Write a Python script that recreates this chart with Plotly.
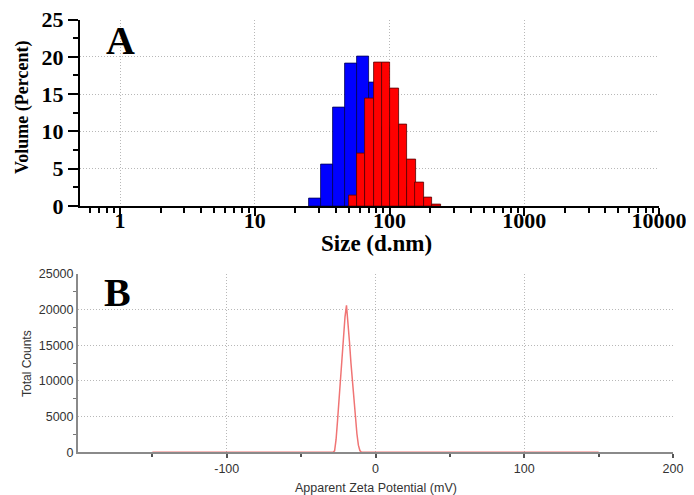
import numpy as np
import plotly.graph_objects as go

# ---------------- data ----------------
# Panel A: size distribution by volume (bin centres in nm, log spaced)
blue_size = [28.1, 34.5, 42.2, 51.7, 63.4, 77.6, 95.1, 116.6, 142.8, 175.0]
blue_vol = [1.0, 5.6, 13.2, 19.1, 20.1, 16.6, 10.5, 5.5, 2.5, 0.8]
blue_step = 0.0882  # bin width in decades

red_size = [53.5, 61.7, 71.1, 82.0, 94.6, 109.1, 125.9, 145.2, 167.5, 193.2, 222.8]
red_vol = [1.4, 7.0, 14.4, 19.2, 19.2, 15.8, 10.9, 6.3, 3.1, 1.1, 0.2]
red_step = 0.0625

size_ticks = [1, 10, 100, 1000, 10000]
size_ticktext = ["1", "10", "100", "1000", "10000"]

# Panel B: zeta potential distribution
zeta_mv = [-150, -28.5, -27.5, -26.5, -25.5, -24.5, -23.5, -22.5, -21.5, -20.5, -19.5,
           -18.5, -17.5, -16.5, -15.5, -14.5, -13.5, -12.5, -11.5, -10.5, -9.5, 150]
zeta_counts = [0, 0, 200, 1800, 4500, 7500, 10500, 13500, 16300, 19000, 20600,
               18500, 15500, 12500, 9800, 7200, 4800, 2600, 1000, 250, 0, 0]

zeta_ticks = [-100, 0, 100, 200]
zeta_ticktext = ["-100", "0", "100", "200"]

# ---------------- helpers ----------------
def bar_geom(centers, step):
    c = np.array(centers, dtype=float)
    lo = c * 10 ** (-step / 2)
    hi = c * 10 ** (step / 2)
    return (lo + hi) / 2, hi - lo

W, H = 694, 495
OFF = 8  # page body margin
def px_x(p):
    return (p - OFF) / W
def px_y(p):
    return 1 - (p - OFF) / H

fig = go.Figure()

bx, bw = bar_geom(blue_size, blue_step)
rx, rw = bar_geom(red_size, red_step)

fig.add_trace(go.Bar(x=bx, y=blue_vol, width=bw, marker=dict(color="#0000ff",
                     line=dict(color="#000050", width=0.8)),
                     xaxis="x", yaxis="y", showlegend=False))
fig.add_trace(go.Bar(x=rx, y=red_vol, width=rw, marker=dict(color="#ff0000",
                     line=dict(color="#500000", width=0.8)),
                     xaxis="x", yaxis="y", showlegend=False))

fig.add_trace(go.Scatter(x=zeta_mv, y=zeta_counts, mode="lines",
                         line=dict(color="#f07474", width=1.5),
                         xaxis="x2", yaxis="y2", showlegend=False))

minor_log = [m * d for d in [0.1, 1, 10, 100, 1000] for m in range(2, 10) if 0.5 < m * d < 10000]

serif = "Liberation Serif"
sans = "Liberation Sans"
grid = "#b8b8b8"
gdash = "1px,2px"

def ann(text, x, y, font, angle=0):
    return dict(text=text, x=px_x(x), y=px_y(y), xref="paper", yref="paper",
                xanchor="center", yanchor="middle", textangle=angle,
                showarrow=False, font=font)

fig.update_layout(
    width=W, height=H,
    margin=dict(l=0, r=0, t=0, b=0, autoexpand=False),
    paper_bgcolor="white", plot_bgcolor="white",
    barmode="overlay", bargap=0,
    xaxis=dict(
        type="log", range=[-0.297, 4.0], automargin=False,
        domain=[px_x(80), px_x(659)], anchor="y",
        tickmode="array", tickvals=size_ticks, ticktext=size_ticktext,
        ticks="outside", ticklen=8, tickwidth=1.5, tickcolor="black",
        ticklabelstandoff=-14, ticklabeloverflow="allow",
        minor=dict(tickmode="array", tickvals=minor_log, ticks="outside",
                   ticklen=5, tickwidth=1.5, tickcolor="black", showgrid=False),
        showline=True, linecolor="black", linewidth=2,
        showgrid=True, gridcolor=grid, griddash=gdash, gridwidth=1,
        zeroline=False,
        tickfont=dict(family=serif, size=22, color="black", weight="bold"),
    ),
    yaxis=dict(
        range=[0, 25], domain=[px_y(206), px_y(19.5)], anchor="x", automargin=False,
        tickmode="linear", tick0=0, dtick=5, ticklabeloverflow="allow",
        ticks="outside", ticklen=10, tickwidth=1.5, tickcolor="black",
        minor=dict(dtick=2.5, ticks="outside", ticklen=5, tickwidth=1.5,
                   tickcolor="black", showgrid=False),
        showline=True, linecolor="black", linewidth=2,
        showgrid=True, gridcolor=grid, griddash=gdash, gridwidth=1,
        zeroline=False,
        tickfont=dict(family=serif, size=22, color="black", weight="bold"),
    ),
    xaxis2=dict(
        range=[-200, 200], domain=[px_x(78), px_x(673)], anchor="y2", automargin=False,
        tickmode="array", tickvals=zeta_ticks, ticktext=zeta_ticktext,
        ticklabeloverflow="allow",
        ticks="outside", ticklen=4, tickwidth=1.5, tickcolor="#555",
        minor=dict(tickmode="array", tickvals=[-150, -50, 50, 150], ticks="outside",
                   ticklen=3, tickwidth=1.5, tickcolor="#555", showgrid=False),
        showline=True, linecolor="#8a8a8a", linewidth=2,
        showgrid=True, gridcolor=grid, griddash=gdash, gridwidth=1,
        zeroline=False,
        tickfont=dict(family=sans, size=12.5, color="#333"),
    ),
    yaxis2=dict(
        range=[0, 25000], domain=[px_y(452.3), px_y(274)], anchor="x2", automargin=False,
        tickmode="linear", tick0=0, dtick=5000, tickformat="d",
        ticklabeloverflow="allow",
        ticks="",
        minor=dict(dtick=2500, ticks="outside", ticklen=3, tickwidth=1,
                   tickcolor="#777", showgrid=False),
        showline=True, linecolor="#8a8a8a", linewidth=2,
        showgrid=True, gridcolor=grid, griddash=gdash, gridwidth=1,
        zeroline=False,
        tickfont=dict(family=sans, size=12.5, color="#333"),
    ),
    annotations=[
        ann("A", 120, 41, dict(family=serif, size=40, color="black", weight="bold")),
        ann("B", 117, 292, dict(family=serif, size=40, color="black", weight="bold")),
        ann("Size (d.nm)", 376, 244, dict(family=serif, size=23, color="black", weight="bold")),
        ann("Volume (Percent)", 23, 108,
            dict(family=serif, size=18, color="black", weight="bold"), angle=-90),
        ann("Total Counts", 27, 364, dict(family=sans, size=12, color="#333"), angle=-90),
        ann("Apparent Zeta Potential (mV)", 376, 488, dict(family=sans, size=12.5, color="#333")),
    ],
)

fig.write_html("out.html")
